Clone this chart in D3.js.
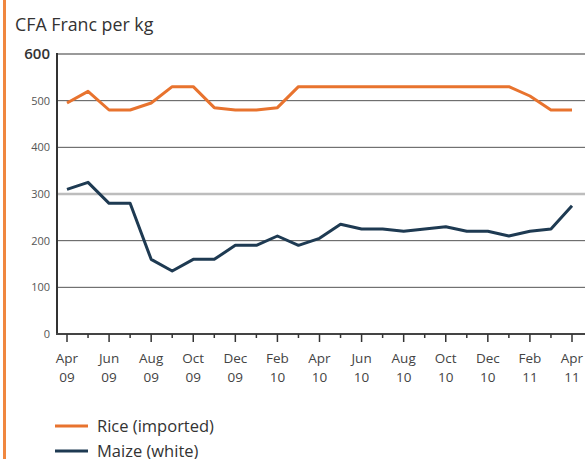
<!DOCTYPE html>
<html><head><meta charset="utf-8">
<script src="https://cdn.jsdelivr.net/npm/d3@7"></script>
<style>body{margin:0;background:#fff;}svg{display:block;font-family:"Open Sans",sans-serif;}</style>
</head><body>
<script>
const months = ["Apr 09","May 09","Jun 09","Jul 09","Aug 09","Sep 09","Oct 09","Nov 09","Dec 09","Jan 10","Feb 10","Mar 10","Apr 10","May 10","Jun 10","Jul 10","Aug 10","Sep 10","Oct 10","Nov 10","Dec 10","Jan 11","Feb 11","Mar 11","Apr 11"];
const rice = [495,520,480,480,495,530,530,485,480,480,485,530,530,530,530,530,530,530,530,530,530,530,510,480,480];
const maize = [310,325,280,280,160,135,160,160,190,190,210,190,205,235,225,225,220,225,230,220,220,210,220,225,275];
const yTicks = [0,100,200,300,400,500,600];
const seriesNames = ["Rice (imported)","Maize (white)"];
const colors = ["#e8732e","#1e3a52"];

const W=587,H=459;
const svg=d3.select("body").append("svg").attr("width",W).attr("height",H);
svg.append("rect").attr("x",3).attr("y",0).attr("width",3).attr("height",H).attr("fill","#f0873f");

const x=d3.scalePoint().domain(months).range([67,572]);
const y=d3.scaleLinear().domain([0,600]).range([334,54]);
const xL=57, xR=585;

// gridlines
yTicks.forEach(t=>{
  if(t===0) return;
  const special = t===300 ? {c:"#bdbdbd",w:2.5} : t===600 ? {c:"#9a9a9a",w:2} : {c:"#555",w:1};
  svg.append("line").attr("x1",xL).attr("x2",xR).attr("y1",y(t)).attr("y2",y(t))
    .attr("stroke",special.c).attr("stroke-width",special.w);
});

// y labels
yTicks.forEach(t=>{
  svg.append("text").attr("x",50).attr("y",y(t)).attr("dy","0.35em")
    .attr("text-anchor","end")
    .attr("font-size",t===600?15:11).attr("font-weight",t===600?600:400)
    .attr("fill",t===600?"#333":"#555").text(t);
});

// title
svg.append("text").attr("x",15).attr("y",31).attr("font-size",17.8).attr("fill","#333").text("CFA Franc per kg");

// axes lines
svg.append("line").attr("x1",xL).attr("x2",xL).attr("y1",y(600)-1).attr("y2",y(0)+1).attr("stroke","#333").attr("stroke-width",2);
svg.append("line").attr("x1",xL-1).attr("x2",xR).attr("y1",y(0)).attr("y2",y(0)).attr("stroke","#444").attr("stroke-width",2);

// x ticks
const xAxis=d3.axisBottom(x).tickSize(0).tickFormat("");
svg.append("g").attr("transform",`translate(0,${y(0)})`).call(xAxis).call(g=>g.select(".domain").remove());
months.forEach((m,i)=>{
  const major = i%2===0;
  svg.append("line").attr("x1",x(m)).attr("x2",x(m)).attr("y1",y(0)).attr("y2",y(0)+(major?8:4))
    .attr("stroke","#333").attr("stroke-width",1.5);
  if(major){
    const [mo,yr]=m.split(" ");
    svg.append("text").attr("x",x(m)).attr("y",y(0)+29).attr("text-anchor","middle").attr("font-size",13.5).attr("fill","#444").text(mo);
    svg.append("text").attr("x",x(m)).attr("y",y(0)+48).attr("text-anchor","middle").attr("font-size",13.5).attr("fill","#444").text(yr);
  }
});

// lines
const line=d3.line().x((d,i)=>x(months[i])).y(d=>y(d));
[rice,maize].forEach((s,k)=>{
  svg.append("path").attr("d",line(s)).attr("fill","none").attr("stroke",colors[k]).attr("stroke-width",3).attr("stroke-linejoin","round");
});

// legend
seriesNames.forEach((n,k)=>{
  const ly = 426 + k*25;
  svg.append("line").attr("x1",55).attr("x2",88).attr("y1",ly).attr("y2",ly).attr("stroke",colors[k]).attr("stroke-width",3);
  svg.append("text").attr("x",97).attr("y",ly).attr("dy","0.35em").attr("font-size",16.5).attr("fill","#333").text(n);
});
</script>
</body></html>
